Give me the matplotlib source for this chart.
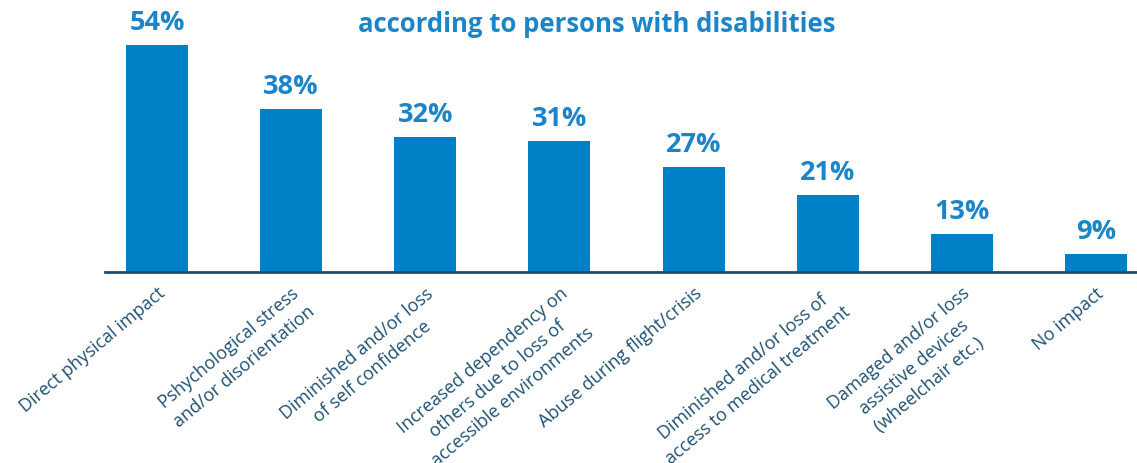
import matplotlib.pyplot as plt
import numpy as np

plt.rcParams['font.family'] = ['Open Sans', 'DejaVu Sans']

categories = [
    "Direct physical impact",
    "Pshychological stress\nand/or disorientation",
    "Diminished and/or loss\nof self confidence",
    "Increased dependency on\nothers due to loss of\naccessible environments",
    "Abuse during flight/crisis",
    "Diminished and/or loss of\naccess to medical treatment",
    "Damaged and/or loss\nassistive devices\n(wheelchair etc.)",
    "No impact",
]
# printed labels
percent = [54, 38, 32, 31, 27, 21, 13, 9]
# bar heights as drawn in the picture (not proportional to the labels)
heights = [54, 38.8, 32.1, 31.2, 25.0, 18.3, 9.0, 4.3]

title = "according to persons with disabilities"

bar_color = "#0080c6"
text_blue = "#1a86c9"
label_color = "#1f5173"

fig = plt.figure(figsize=(11.37, 4.63), dpi=100)
ax = fig.add_axes([105 / 1137, 191 / 463, 1032 / 1137, 272 / 463])

x = np.arange(len(categories))
bars = ax.bar(x, heights, width=0.462, color=bar_color, zorder=2)

for xi, h, p in zip(x, heights, percent):
    ax.annotate(f"{p}%", (xi, h), xytext=(0, 6.5), textcoords="offset points",
                ha="center", va="bottom", fontsize=19.5, fontweight="bold",
                color=text_blue)

ax.set_xlim(-0.388, 7.306)
ax.set_ylim(0, 64.6)

ax.set_xticks(x)
ax.set_xticklabels(categories, rotation=40, ha="right", va="top",
                   rotation_mode="anchor", multialignment="center",
                   fontsize=13, color=label_color, linespacing=1.4)
ax.tick_params(axis="x", length=0, pad=9)
ax.set_yticks([])

for s in ["left", "right", "top"]:
    ax.spines[s].set_visible(False)
ax.spines["bottom"].set_color("#1c4f6e")
ax.spines["bottom"].set_linewidth(2)

fig.text(597 / 1137, 1 - 32 / 463, title, ha="center", va="baseline",
         fontsize=18.5, fontweight="bold", color=text_blue)

fig.savefig("out.png", dpi=100)
